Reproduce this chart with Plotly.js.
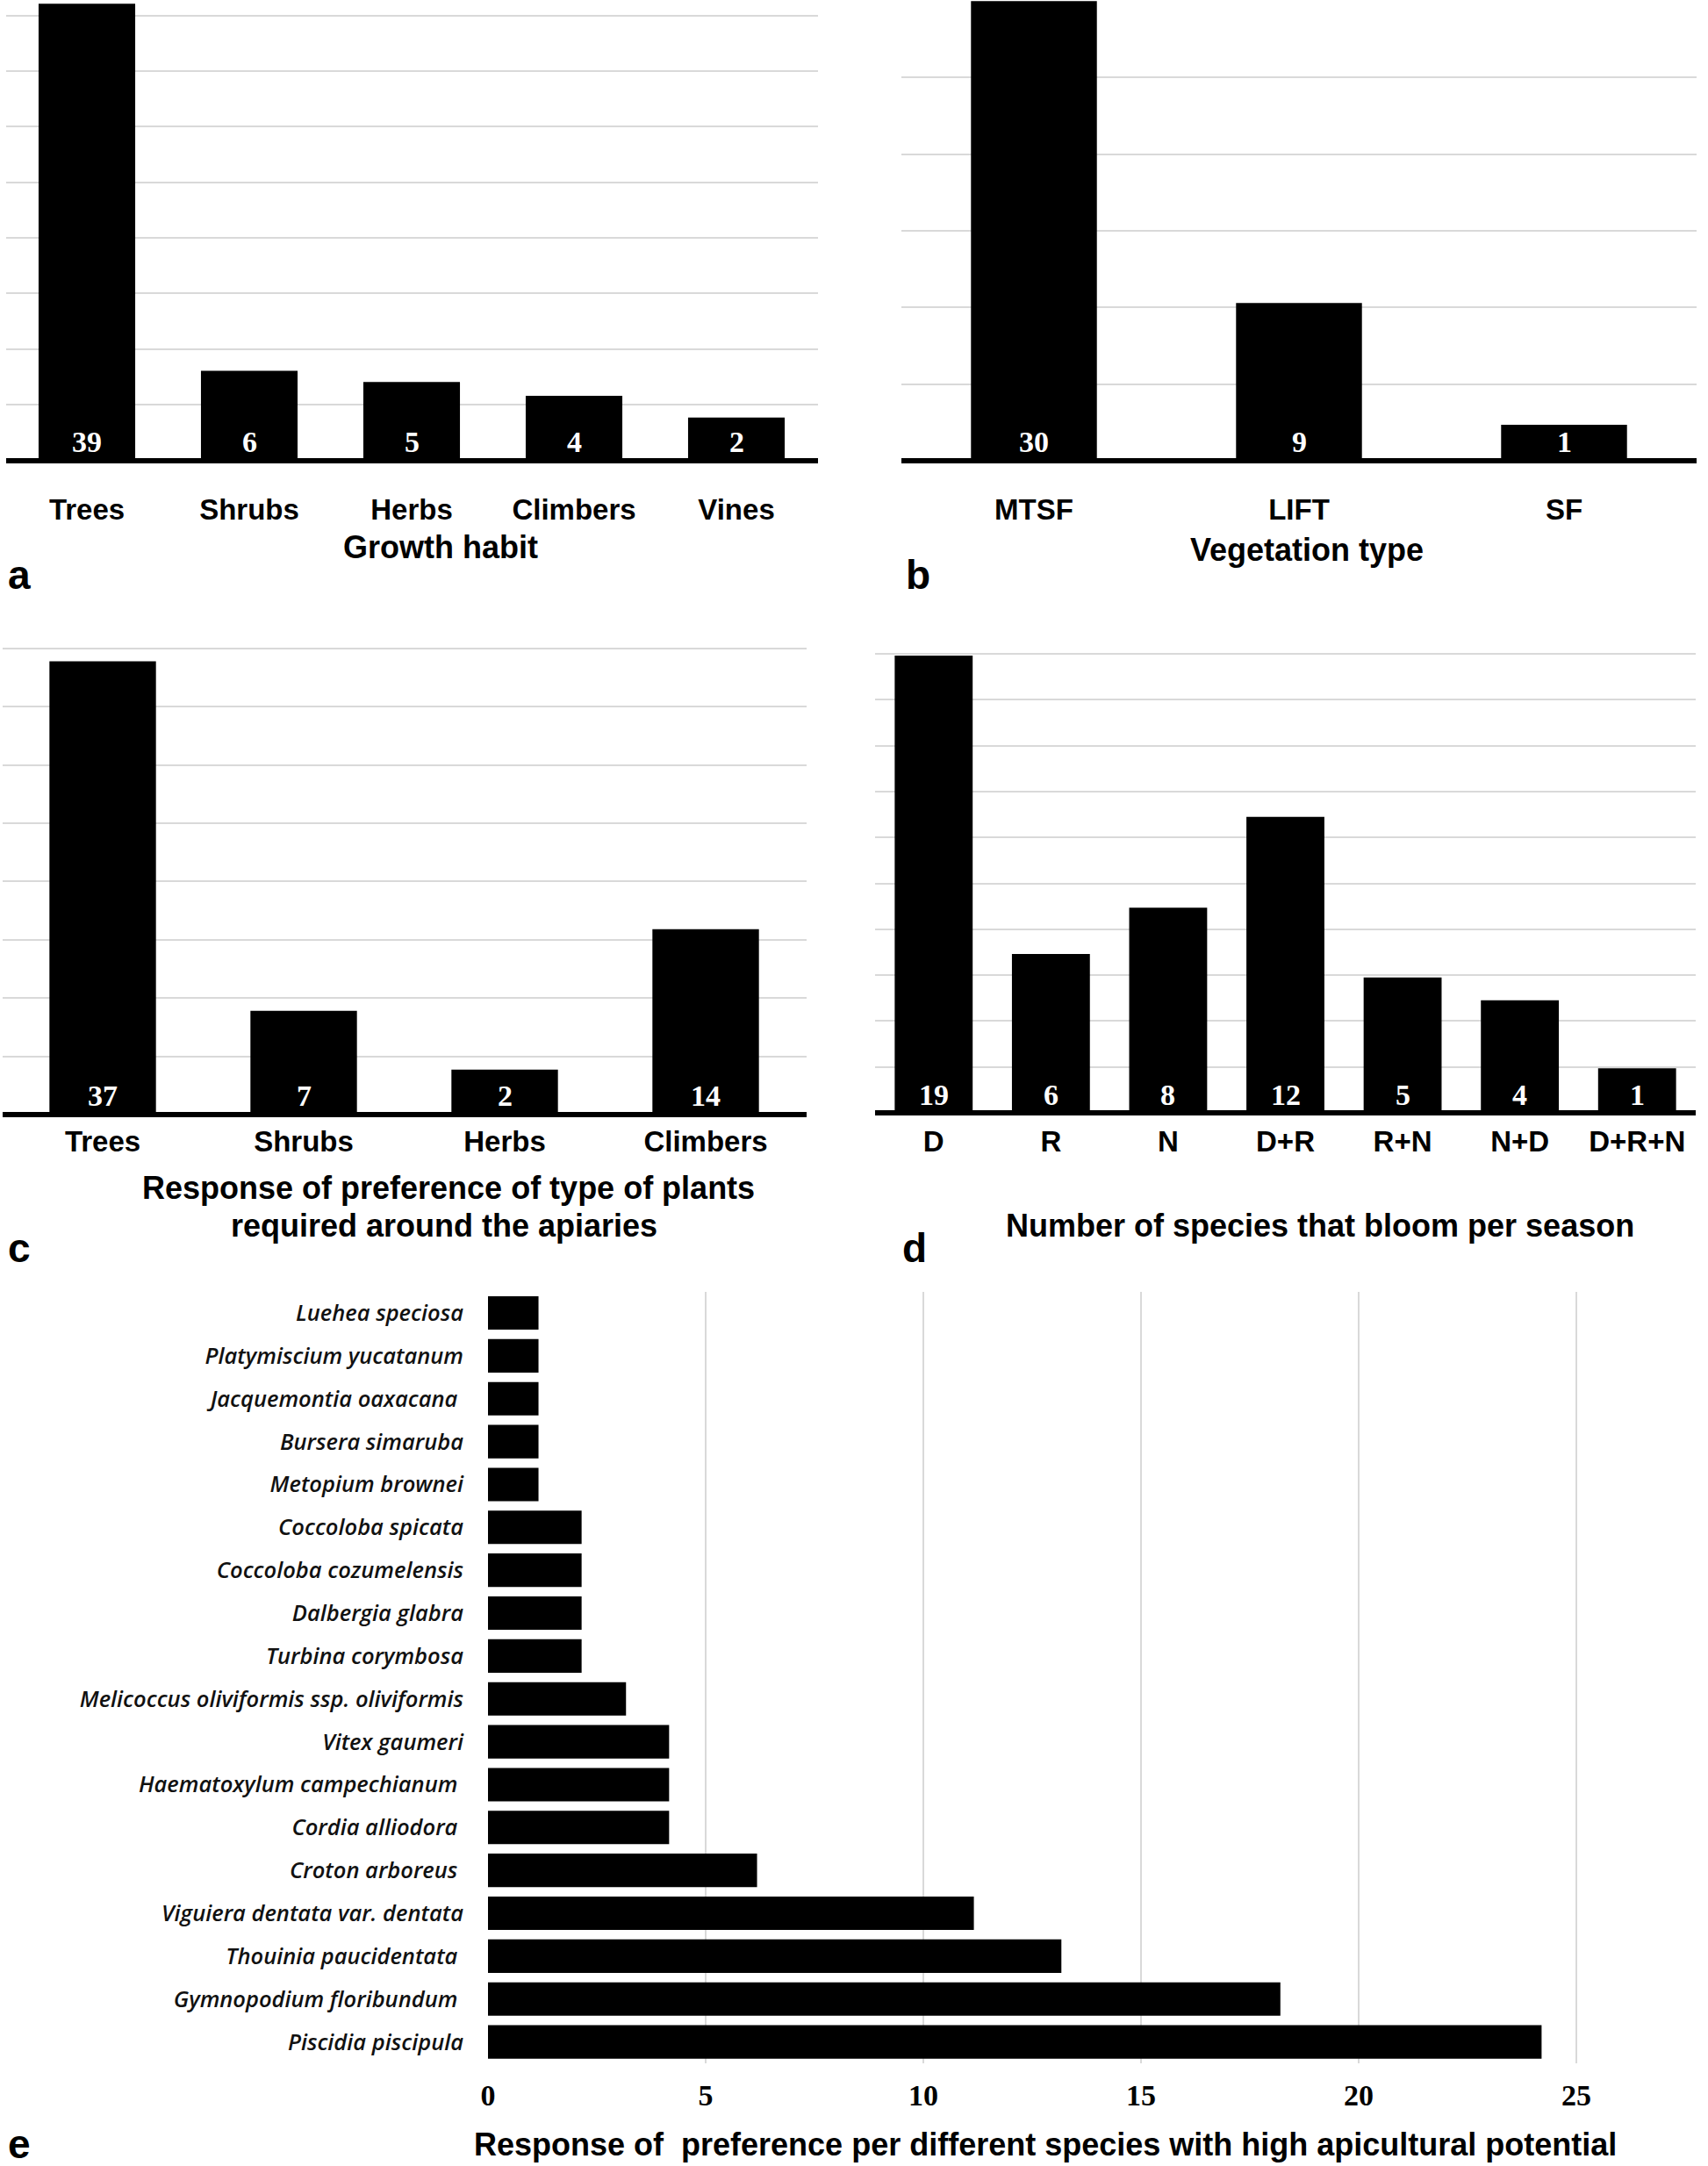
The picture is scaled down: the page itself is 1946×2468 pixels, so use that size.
<!DOCTYPE html>
<html>
<head>
<meta charset="utf-8">
<script src="https://cdn.plot.ly/plotly-3.0.1.min.js"></script>
<style>html,body{margin:0;padding:0;background:#fff;}#chart{width:1946px;height:2468px;}</style>
</head>
<body>
<div id="chart"></div>
<script>
// ---------------- DATA ----------------
// Panel a: growth habit
const growthCats = ['Trees', 'Shrubs', 'Herbs', 'Climbers', 'Vines'];
const growthCounts = [39, 6, 5, 4, 2];
const growthBarHeights = [8.21, 1.61, 1.41, 1.16, 0.77];   // bar heights (gridline units)

// Panel b: vegetation type
const vegCats = ['MTSF', 'LIFT', 'SF'];
const vegCounts = [30, 9, 1];
const vegBarHeights = [6.0, 2.06, 0.47];

// Panel c: preference of plant type around apiaries
const prefCats = ['Trees', 'Shrubs', 'Herbs', 'Climbers'];
const prefCounts = [37, 7, 2, 14];
const prefBarHeights = [7.78, 1.78, 0.77, 3.18];

// Panel d: species that bloom per season
const bloomCats = ['D', 'R', 'N', 'D+R', 'R+N', 'N+D', 'D+R+N'];
const bloomCounts = [19, 6, 8, 12, 5, 4, 1];
const bloomBarHeights = [9.96, 3.46, 4.47, 6.45, 2.95, 2.45, 0.97];

// Panel e: species with high apicultural potential (top to bottom)
const speciesNames = [
  'Luehea speciosa', 'Platymiscium yucatanum', 'Jacquemontia oaxacana\u00a0',
  'Bursera simaruba', 'Metopium brownei', 'Coccoloba spicata',
  'Coccoloba cozumelensis', 'Dalbergia glabra', 'Turbina corymbosa',
  'Melicoccus oliviformis ssp. oliviformis', 'Vitex gaumeri',
  'Haematoxylum campechianum\u00a0', 'Cordia alliodora\u00a0', 'Croton arboreus\u00a0',
  'Viguiera dentata var. dentata', 'Thouinia paucidentata\u00a0',
  'Gymnopodium floribundum\u00a0', 'Piscidia piscipula'
];
const speciesValues = [1.16, 1.16, 1.16, 1.16, 1.16, 2.15, 2.15, 2.15, 2.15,
  3.17, 4.16, 4.16, 4.16, 6.18, 11.16, 13.17, 18.2, 24.2];
const speciesTicks = [0, 5, 10, 15, 20, 25];

// ---------------- LAYOUT HELPERS ----------------
const W = 1946, H = 2468;
const SANS = 'Liberation Sans, Arial, sans-serif';
const SERIF = 'Liberation Serif, Times New Roman, serif';
const GRID = '#d9d9d9';
const xd = (a, b) => [a / W, b / W];
const yd = (top, bottom) => [1 - bottom / H, 1 - top / H];
const px = (x, y) => ({x: x / W, y: 1 - y / H});

const traces = [];
const annotations = [];
const layout = {
  width: W, height: H,
  margin: {l: 0, r: 0, t: 0, b: 0},
  paper_bgcolor: '#fff', plot_bgcolor: '#fff',
  showlegend: false,
  font: {family: SANS, color: '#000'},
  annotations: annotations
};

function barPanel(i, cats, heights, counts, x0, x1, zero, unit, hi, barWidth, standoff) {
  const lo = -3.2 / unit;
  const top = zero - hi * unit, bottom = zero - lo * unit;
  const xa = 'x' + (i === 1 ? '' : i), ya = 'y' + (i === 1 ? '' : i);
  traces.push({
    type: 'bar', x: cats, y: heights, xaxis: xa, yaxis: ya, width: barWidth,
    marker: {color: '#000', line: {width: 0}}, hoverinfo: 'skip'
  });
  const xk = 'xaxis' + (i === 1 ? '' : i), yk = 'yaxis' + (i === 1 ? '' : i);
  layout[xk] = {
    domain: xd(x0, x1), anchor: ya, type: 'category',
    showgrid: false, showline: false, zeroline: false, ticks: '',
    tickfont: {family: SANS, size: 33, color: '#000', weight: 'bold'},
    ticklabelstandoff: standoff, fixedrange: true
  };
  layout[yk] = {
    domain: yd(top, bottom), anchor: xa, range: [lo, hi], dtick: 1,
    showticklabels: false, ticks: '', showline: false,
    showgrid: true, gridcolor: GRID, gridwidth: 2,
    zeroline: true, zerolinecolor: '#000', zerolinewidth: 6, fixedrange: true
  };
  cats.forEach((c, k) => annotations.push({
    xref: xa, yref: ya, x: c, y: 0, yanchor: 'middle', xanchor: 'center',
    yshift: 21, showarrow: false, text: String(counts[k]),
    font: {family: SERIF, size: 34, color: '#fff', weight: 'bold'}
  }));
}

barPanel(1, growthCats, growthBarHeights, growthCounts, 6.5, 931.5, 524.5, 63.36, 8.22, 0.595, 30);
barPanel(2, vegCats, vegBarHeights, vegCounts, 1027, 1933, 525, 87.3, 6.01, 0.475, 30);
barPanel(3, prefCats, prefBarHeights, prefCounts, 2.5, 918.5, 1270, 66.4, 8.03, 0.53, 5);
barPanel(4, bloomCats, bloomBarHeights, bloomCounts, 997, 1932, 1268, 52.3, 10.03, 0.665, 7);

// Panel e
traces.push({
  type: 'bar', orientation: 'h', x: speciesValues, y: speciesNames,
  xaxis: 'x5', yaxis: 'y5', width: 0.78,
  marker: {color: '#000', line: {width: 0}}, hoverinfo: 'skip'
});
layout.xaxis5 = {
  domain: xd(556, 1806), anchor: 'y5', range: [0, 25.2],
  tickvals: speciesTicks, ticktext: speciesTicks.map(String), ticks: '',
  showgrid: true, gridcolor: GRID, gridwidth: 2, zeroline: false, showline: false,
  tickfont: {family: SERIF, size: 34, color: '#000', weight: 'bold'},
  ticklabelstandoff: 13, fixedrange: true
};
layout.yaxis5 = {
  domain: yd(1471.6, 2351), anchor: 'x5', type: 'category', autorange: 'reversed',
  showgrid: false, zeroline: false, showline: false, ticks: '',
  tickfont: {family: 'Open Sans, sans-serif', size: 25.5, color: '#111', style: 'italic', weight: 600},
  ticklabelstandoff: 27, fixedrange: true
};

// Axis titles and panel letters
function label(text, x, y, size, weight) {
  const p = px(x, y);
  annotations.push({xref: 'paper', yref: 'paper', x: p.x, y: p.y, xanchor: 'center', yanchor: 'middle',
    showarrow: false, text: text, font: {family: SANS, size: size, color: '#000', weight: weight || 'normal'}});
}
label('Growth habit', 502, 624, 36, 'bold');
label('Vegetation type', 1489, 627, 36, 'bold');
label('Response of preference of type of plants', 511, 1353, 36, 'bold');
label('required around the apiaries', 506, 1396, 36, 'bold');
label('Number of species that bloom per season', 1504, 1396, 36, 'bold');
label('Response of&nbsp; preference per different species with high apicultural potential', 1191, 2443, 36, 'bold');
label('a', 22, 655, 46, 'bold');
label('b', 1046, 655, 46, 'bold');
label('c', 22, 1422, 46, 'bold');
label('d', 1042, 1422, 46, 'bold');
label('e', 22, 2443, 46, 'bold');

Plotly.newPlot('chart', traces, layout, {staticPlot: true, displayModeBar: false});
</script>
</body>
</html>
